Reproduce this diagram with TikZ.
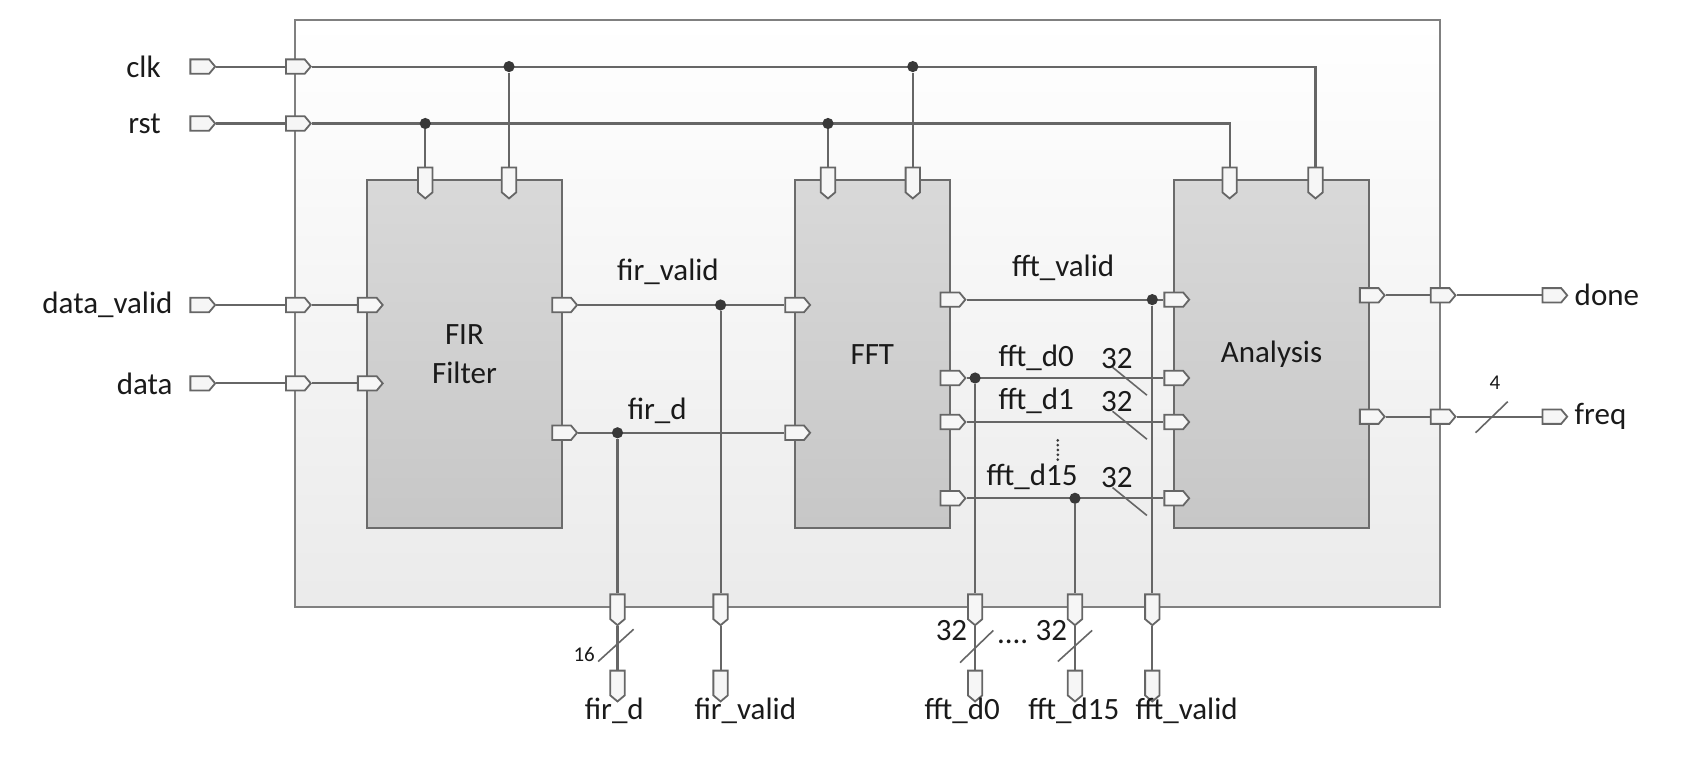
\documentclass[tikz,border=0pt]{standalone}
\usepackage{fontspec}
\setmainfont{Carlito}
\usetikzlibrary{shapes.symbols}
\pgfdeclarelayer{back}
\pgfdeclarelayer{wires}
\pgfsetlayers{back,wires,main}
\definecolor{wirec}{HTML}{666666}
\definecolor{portc}{HTML}{F6F6F6}
\definecolor{dotc}{HTML}{383838}
\definecolor{txtc}{HTML}{1A1A1A}
\begin{document}
\begin{tikzpicture}[x=0.537pt,y=-0.537pt,
  wire/.style={draw=wirec, line width=1.05pt},
  slash/.style={draw=wirec, line width=0.8pt},
  port/.style={signal, draw=wirec, fill=portc, line width=0.9pt, inner sep=0pt, signal pointer angle=100},
  portE/.style={port, signal to=east, signal from=nowhere, minimum width=12.4pt, minimum height=7.2pt},
  portS/.style={port, signal to=south, signal from=nowhere, minimum width=7.2pt, minimum height=12.4pt},
  jdot/.style={circle, fill=dotc, inner sep=0pt, minimum size=5.6pt},
  lbl/.style={inner sep=0pt, text=txtc, font=\fontsize{15.5}{18}\selectfont},
  small/.style={inner sep=0pt, text=txtc, font=\fontsize{10.5}{12}\selectfont},
  block/.style={draw=black!58, line width=1pt, top color=black!15, bottom color=black!22, text=txtc, align=center, font=\fontsize{15.5}{20}\selectfont, minimum height=174.2pt},
  outerbox/.style={draw=black!50, line width=1.1pt, top color=white, bottom color=black!8}
]
\useasboundingbox (0,0) rectangle (1570,719);

\begin{pgfonlayer}{back}
\node[outerbox, minimum width=572.4pt, minimum height=293.4pt] (sys) at (808,291.8) {};
\end{pgfonlayer}

% blocks
\node[block, minimum width=97.2pt] (fir) at (432.5,329.8) {FIR\\Filter};
\node[block, minimum width=77.7pt] (fft) at (812.3,329.8) {FFT};
\node[block, minimum width=97.7pt] (ana) at (1184,329.8) {Analysis};

% left ports
\node[portE] (clkin) at (186,62) {};
\node[portE] (rstin) at (186,115) {};
\node[portE] (dvin) at (186,284) {};
\node[portE] (din) at (186,357) {};
\node[portE] (clkb) at (275,62) {};
\node[portE] (rstb) at (275,115) {};
\node[portE] (dvb) at (275,284) {};
\node[portE] (db) at (275,357) {};
\node[portE] (dvf) at (342,284) {};
\node[portE] (df) at (342,357) {};
% FIR outputs / FFT inputs
\node[portE] (fvo) at (523,284) {};
\node[portE] (fdo) at (523,403) {};
\node[portE] (fvi) at (740,284) {};
\node[portE] (fdi) at (740,403) {};
% FFT outputs / Analysis inputs
\node[portE] (fvo2) at (884.6,279) {};
\node[portE] (d0o) at (884.6,352) {};
\node[portE] (d1o) at (884.6,393) {};
\node[portE] (d15o) at (884.6,464) {};
\node[portE] (avi) at (1093,279) {};
\node[portE] (a0) at (1093,352) {};
\node[portE] (a1) at (1093,393) {};
\node[portE] (a15) at (1093,464) {};
% Analysis outputs
\node[portE] (doa) at (1275,275) {};
\node[portE] (fra) at (1275,388) {};
\node[portE] (dob) at (1341,275) {};
\node[portE] (frb) at (1341,388) {};
\node[portE] (doo) at (1445,275) {};
\node[portE] (fro) at (1445,388) {};
% top ports
\node[portS] (firr) at (396,167.6) {};
\node[portS] (firc) at (474,167.6) {};
\node[portS] (fftr) at (771,167.6) {};
\node[portS] (fftc) at (850,167.6) {};
\node[portS] (anr) at (1145,167.6) {};
\node[portS] (anc) at (1225,167.6) {};
% bottom ports
\node[portS] (bfd) at (575,565) {};
\node[portS] (bfv) at (671,565) {};
\node[portS] (b0) at (908,565) {};
\node[portS] (b15) at (1001,565) {};
\node[portS] (bv) at (1073,565) {};
\node[portS] (ofd) at (575,636) {};
\node[portS] (ofv) at (671,636) {};
\node[portS] (o0) at (908,636) {};
\node[portS] (o15) at (1001,636) {};
\node[portS] (ov) at (1073,636) {};

% junction dots
\node[jdot] (jc1) at (474,62) {};
\node[jdot] (jc2) at (850,62) {};
\node[jdot] (jr1) at (396,115) {};
\node[jdot] (jr2) at (771,115) {};
\node[jdot] (jfv) at (671,284) {};
\node[jdot] (jfd) at (575,403) {};
\node[jdot] (jv) at (1073,279) {};
\node[jdot] (j0) at (908,352) {};
\node[jdot] (j15) at (1001,464) {};

\begin{pgfonlayer}{wires}
\draw[wire] (clkin.east) -- (clkb.west);
\draw[wire] (clkb.east) -| (anc.north);
\draw[wire] (jc1) -- (firc.north);
\draw[wire] (jc2) -- (fftc.north);
\draw[wire] (rstin.east) -- (rstb.west);
\draw[wire] (rstb.east) -| (anr.north);
\draw[wire] (jr1) -- (firr.north);
\draw[wire] (jr2) -- (fftr.north);
\draw[wire] (dvin.east) -- (dvb.west);
\draw[wire] (dvb.east) -- (dvf.west);
\draw[wire] (din.east) -- (db.west);
\draw[wire] (db.east) -- (df.west);
\draw[wire] (fvo.east) -- (fvi.west);
\draw[wire] (fdo.east) -- (fdi.west);
\draw[wire] (jfv) -- (bfv.north);
\draw[wire] (jfd) -- (bfd.north);
\draw[wire] (bfv.south) -- (ofv.north);
\draw[wire] (bfd.south) -- (ofd.north);
\draw[wire] (fvo2.east) -- (avi.west);
\draw[wire] (d0o.east) -- (a0.west);
\draw[wire] (d1o.east) -- (a1.west);
\draw[wire] (d15o.east) -- (a15.west);
\draw[wire] (jv) -- (bv.north);
\draw[wire] (j0) -- (b0.north);
\draw[wire] (j15) -- (b15.north);
\draw[wire] (bv.south) -- (ov.north);
\draw[wire] (b0.south) -- (o0.north);
\draw[wire] (b15.south) -- (o15.north);
\draw[wire] (doa.east) -- (dob.west);
\draw[wire] (dob.east) -- (doo.west);
\draw[wire] (fra.east) -- (frb.west);
\draw[wire] (frb.east) -- (fro.west);
\end{pgfonlayer}

% bus slashes
\draw[slash] (1036,342) -- (1068,368);
\draw[slash] (1036,383) -- (1068,409);
\draw[slash] (1036,454) -- (1068,480);
\draw[slash] (557,616) -- (590,586);
\draw[slash] (894,617) -- (925,587);
\draw[slash] (985,616) -- (1017,587);
\draw[slash] (1374,403) -- (1404,374);
% vertical ellipsis
\foreach \yy in {410,414.5,419,423.5,428} \fill[dotc] (985,\yy) circle (0.75pt);

% labels
\node[lbl, anchor=east] (lclk) at (150,62) {clk};
\node[lbl, anchor=east] (lrst) at (150,115) {rst};
\node[lbl, anchor=east] (ldv) at (161,284) {data\_valid};
\node[lbl, anchor=east] (ld) at (161,357) {data};
\node[lbl, anchor=west] (ldone) at (1466,275) {done};
\node[lbl, anchor=west] (lfreq) at (1466,388) {freq};
\node[lbl] (lfv) at (622,253) {fir\_valid};
\node[lbl] (lfd) at (612,383) {fir\_d};
\node[lbl] (lfftv) at (990,249) {fft\_valid};
\node[lbl] (ld0) at (965,333) {fft\_d0};
\node[lbl] (ld1) at (965,373) {fft\_d1};
\node[lbl] (ld15) at (961,444) {fft\_d15};
\node[lbl] (w0) at (1040,334) {32};
\node[lbl] (w1) at (1040,374) {32};
\node[lbl] (w15) at (1040,445) {32};
\node[lbl] (bl1) at (572,662) {fir\_d};
\node[lbl] (bl2) at (694,662) {fir\_valid};
\node[lbl] (bl3) at (896,662) {fft\_d0};
\node[lbl] (bl4) at (1000,662) {fft\_d15};
\node[lbl] (bl5) at (1105,662) {fft\_valid};
\node[small] (w16) at (544,609) {16};
\node[lbl] (wb0) at (886,587) {32};
\node[lbl] (wb15) at (979,587) {32};
\node[lbl] (ell) at (943,598) {....};
\node[small] (w4) at (1392,356) {4};
\end{tikzpicture}
\end{document}
